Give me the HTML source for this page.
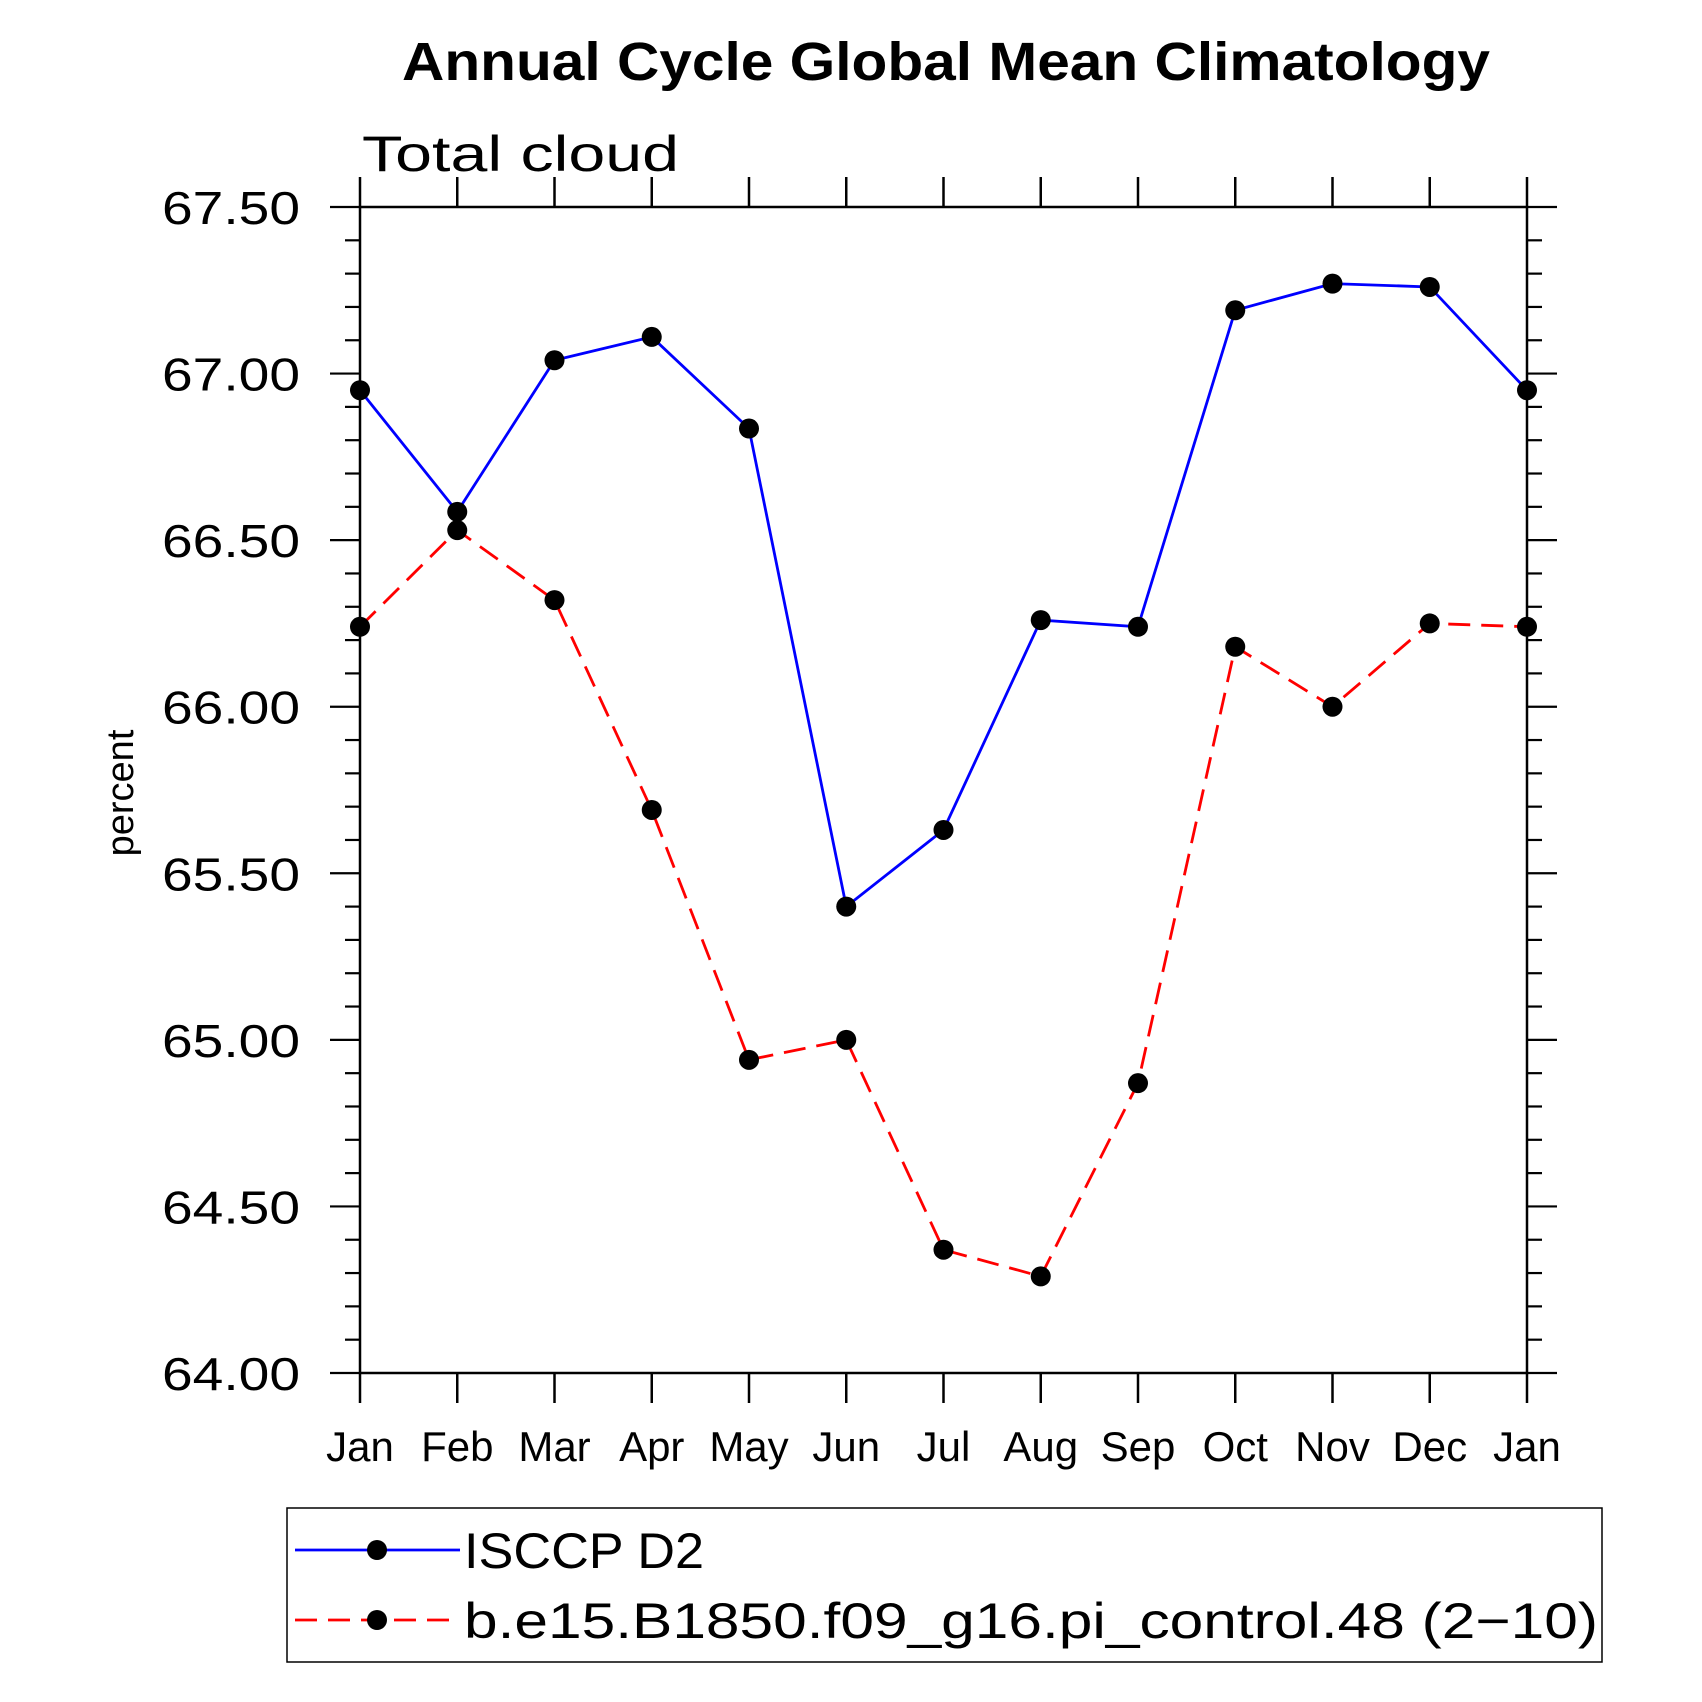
<!DOCTYPE html>
<html><head><meta charset="utf-8"><style>html,body{margin:0;padding:0;background:#fff}svg{display:block}text{font-family:"Liberation Sans","DejaVu Sans",sans-serif}</style></head>
<body>
<svg id="chart" width="1702" height="1702" viewBox="0 0 1702 1702" xmlns="http://www.w3.org/2000/svg">
<text x="946" y="80" text-anchor="middle" font-size="54" font-weight="bold" textLength="1088" lengthAdjust="spacingAndGlyphs">Annual Cycle Global Mean Climatology</text>
<text x="362" y="171" font-size="50" font-weight="300" textLength="317" lengthAdjust="spacingAndGlyphs">Total cloud</text>
<text transform="translate(133,793) rotate(-90)" text-anchor="middle" font-size="38">percent</text>
<g id="axes"></g>
<g id="series"></g>
<rect x="287" y="1508" width="1315" height="154" fill="none" stroke="#000" stroke-width="1.5"/>
<g>
<line x1="295" y1="1550" x2="460" y2="1550" stroke="#0000ff" stroke-width="2.8"/>
<circle cx="377" cy="1550" r="10" fill="#000"/>
<text x="464" y="1568" font-size="50" textLength="240" lengthAdjust="spacingAndGlyphs">ISCCP D2</text>
</g>
<g>
<line x1="295" y1="1620" x2="460" y2="1620" stroke="#ff0000" stroke-width="2.8" stroke-dasharray="22,11"/>
<circle cx="377" cy="1620" r="10" fill="#000"/>
<text x="464" y="1638" font-size="50" textLength="1134" lengthAdjust="spacingAndGlyphs">b.e15.B1850.f09_g16.pi_control.48 (2−10)</text>
</g>
</svg>
<script>
const months = ["Jan","Feb","Mar","Apr","May","Jun","Jul","Aug","Sep","Oct","Nov","Dec","Jan"];
const isccp = [66.95,66.585,67.04,67.11,66.835,65.40,65.63,66.26,66.24,67.19,67.27,67.26,66.95];
const model = [66.24,66.53,66.32,65.69,64.94,65.00,64.37,64.29,64.87,66.18,66.00,66.25,66.24];
const yTicks = ["64.00","64.50","65.00","65.50","66.00","66.50","67.00","67.50"];
const X0=360, X1=1527, Y0=1373, Y1=207, YMIN=64, YMAX=67.5;
const NS="http://www.w3.org/2000/svg";
function x(i){return X0+(X1-X0)*i/(months.length-1);}
function y(v){return Y0-(Y0-Y1)*(v-YMIN)/(YMAX-YMIN);}
function mk(t,a,p){const e=document.createElementNS(NS,t);for(const k in a)e.setAttribute(k,a[k]);p.appendChild(e);return e;}
const ax=document.getElementById('axes');
const frame=mk('rect',{x:X0,y:Y1,width:X1-X0,height:Y0-Y1,fill:'none',stroke:'#000','stroke-width':2.5},ax);


months.forEach((m,i)=>{
  const bt=mk('line',{x1:x(i),x2:x(i),y1:Y0,y2:Y0+30,stroke:'#000','stroke-width':2.5},ax);
  
  
  const tt=mk('line',{x1:x(i),x2:x(i),y1:Y1,y2:Y1-30,stroke:'#000','stroke-width':2.5},ax);
  
  
  const lb=mk('text',{x:x(i),y:1461,'text-anchor':'middle','font-size':42,'font-weight':300},ax);
  lb.textContent=m;
  
  
});
for(let k=0;k<=35;k++){
  const v=YMIN+k*0.1, major=(k%5===0), L=major?30:15;
  const l1=mk('line',{x1:X0-L,x2:X0,y1:y(v),y2:y(v),stroke:'#000','stroke-width':2.2},ax);
  
  
  const l2=mk('line',{x1:X1,x2:X1+L,y1:y(v),y2:y(v),stroke:'#000','stroke-width':2.2},ax);
  
  
}
yTicks.forEach(t=>{
  const lb=mk('text',{x:300,y:y(parseFloat(t))+17,'text-anchor':'end','font-size':46,textLength:138,lengthAdjust:'spacingAndGlyphs'},ax);
  lb.textContent=t;
  
  
});
const sg=document.getElementById('series');
function draw(vals,color,dash,name){
  const pts=vals.map((v,i)=>x(i)+','+y(v)).join(' ');
  const pl=mk('polyline',{points:pts,fill:'none',stroke:color,'stroke-width':2.8,'stroke-dasharray':dash},sg);
  
  
  vals.forEach((v,i)=>{
    const c=mk('circle',{cx:x(i),cy:y(v),r:10,fill:'#000'},sg);
    
    
  });
}
draw(model,'#ff0000','22,11','model');
draw(isccp,'#0000ff','none','isccp');
</script>
</body></html>
